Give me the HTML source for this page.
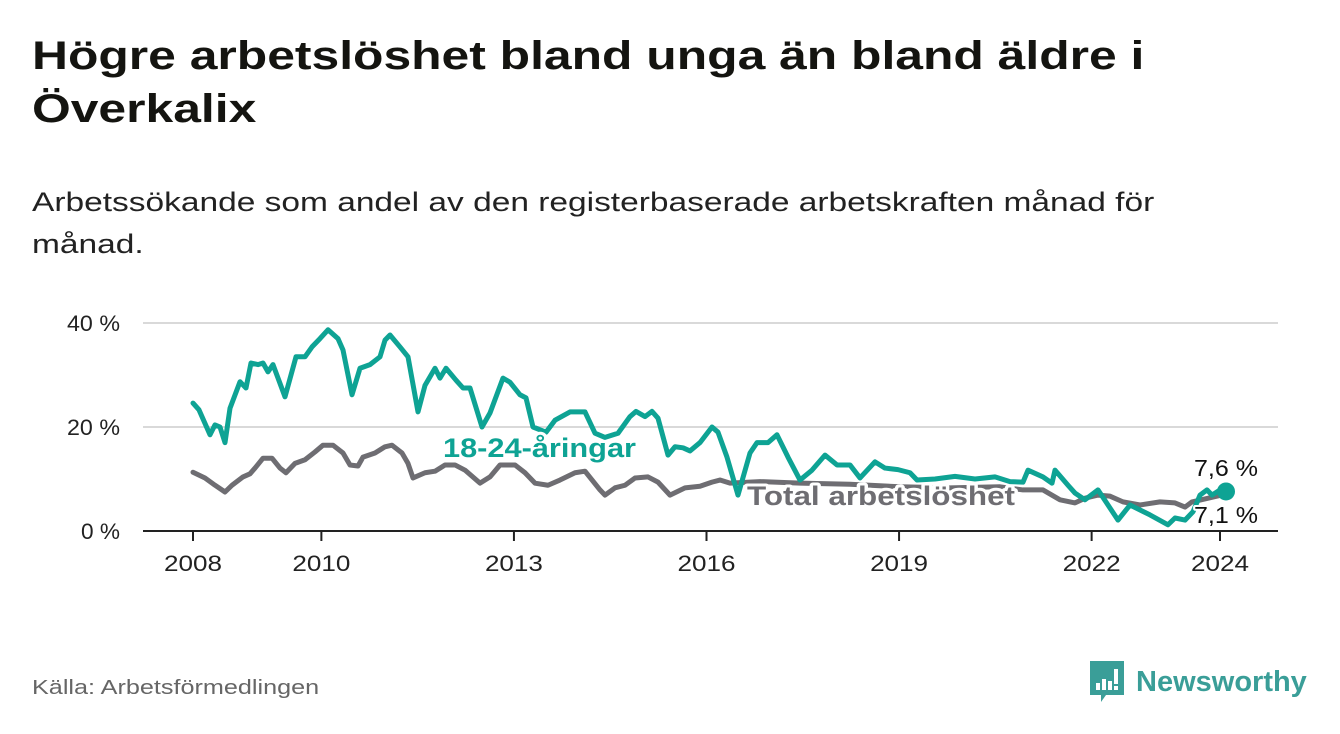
<!DOCTYPE html>
<html><head><meta charset="utf-8">
<style>
body{margin:0;width:1340px;height:734px;background:#fff;font-family:"Liberation Sans","DejaVu Sans",sans-serif;overflow:hidden;position:relative;color:#111}
.t{position:absolute;left:32px;top:30px;font-size:40px;font-weight:bold;line-height:53px;color:#141410;margin:0;transform:scaleX(1.245);transform-origin:0 0;white-space:nowrap}
.s{position:absolute;left:32px;top:181px;font-size:27px;line-height:42px;color:#222;margin:0;transform:scaleX(1.24);transform-origin:0 0;white-space:nowrap}
.src{position:absolute;left:32px;top:677px;font-size:20px;color:#666;transform:scaleX(1.26);transform-origin:0 0;white-space:nowrap}
.logo{position:absolute;left:1090px;top:661px;display:flex;align-items:center}
.logo span{font-size:29px;font-weight:bold;color:#3a9e98;margin-left:12px}
svg{position:absolute;left:0;top:0}
</style></head><body>
<h1 class="t">Högre arbetslöshet bland unga än bland äldre i<br>Överkalix</h1>
<p class="s">Arbetssökande som andel av den registerbaserade arbetskraften månad för<br>månad.</p>
<svg id="chart" width="1340" height="734"></svg>
<div class="src">Källa: Arbetsförmedlingen</div>
<div class="logo">
<svg width="34" height="42" viewBox="0 0 34 42" style="position:static"><path d="M0 0h34v34H16l-5 7v-7H0z" fill="#3a9e98"/><rect x="6" y="22" width="4" height="7" fill="#fff"/><rect x="12" y="18" width="4" height="11" fill="#fff"/><rect x="18" y="20" width="4" height="9" fill="#fff"/><rect x="24" y="8" width="4" height="15" fill="#fff"/><rect x="24" y="25" width="4" height="4" fill="#fff"/></svg>
<span>Newsworthy</span></div>
<script>
const youthX=[193,199,210,215,220,225,230,240,246,251,258,263,268,273,285,296,305,312,320,328,338,343,352,360,370,380,385,390,400,408,418,425,435,440,446,456,463,470,482,490,503,510,520,526,533,546,555,570,585,595,605,618,630,636,645,652,658,668,675,683,690,700,712,718,727,738,750,757,768,777,788,800,812,825,837,850,860,875,885,898,910,917,935,955,975,995,1010,1023,1028,1043,1052,1055,1068,1075,1085,1098,1108,1118,1130,1150,1168,1175,1185,1193,1200,1207,1212,1220,1226];
const youthV=[24.6,23.3,18.5,20.4,20,17,23.6,28.7,27.5,32.3,32,32.3,30.6,32,25.8,33.5,33.5,35.4,37,38.7,37,34.8,26.2,31.3,32,33.5,36.7,37.7,35.4,33.5,22.9,28,31.3,29.4,31.3,29,27.5,27.5,20,22.7,29.4,28.6,26.2,25.6,20,19,21.3,22.9,22.9,18.8,18,18.8,22,23,22,23,21.7,14.6,16.2,16,15.4,17,20,19,14.2,6.9,15,17,17,18.5,14.2,9.8,11.7,14.6,12.7,12.7,10.2,13.3,12.1,11.8,11.2,9.8,10,10.5,10,10.4,9.5,9.4,11.7,10.4,9.2,11.7,8.8,7.3,6,7.9,5,2.1,5,3.1,1.2,2.5,2.1,3.7,6.9,7.9,6.9,7.9,7.6];
const totalX=[193,205,215,225,232,243,250,255,263,272,280,286,295,305,315,323,333,343,350,358,363,375,385,392,402,408,413,425,435,445,455,465,480,490,500,515,525,535,548,560,575,585,600,605,615,625,635,648,658,670,685,700,712,720,730,760,800,850,900,950,1000,1023,1043,1060,1075,1085,1098,1110,1123,1140,1160,1175,1185,1192,1226];
const totalV=[11.3,10.2,8.8,7.5,8.8,10.4,11,12.1,14,14,12.1,11.2,13,13.7,15.2,16.5,16.5,15,12.7,12.5,14.2,15,16.2,16.5,15,13,10.2,11.2,11.5,12.7,12.7,11.7,9.2,10.4,12.7,12.7,11.2,9.2,8.8,9.8,11.2,11.5,7.9,6.9,8.3,8.8,10.2,10.4,9.4,6.9,8.3,8.6,9.4,9.8,9.2,9.5,9.2,9,8.5,8.3,8.5,7.9,7.9,6,5.4,6.3,6.9,6.7,5.6,5,5.6,5.4,4.6,5.6,7.1];
const yTicks=[0,20,40];
const xTickYears=[2008,2010,2013,2016,2019,2022,2024];
const NS="http://www.w3.org/2000/svg";
const svg=document.getElementById('chart');
const X0=143,X1=1278;
const yS=v=>531-v*5.2;
const xYear=y=>193+(y-2008)*64.1875;
function mk(t,a){const e=document.createElementNS(NS,t);for(const k in a)e.setAttribute(k,a[k]);svg.appendChild(e);return e;}
yTicks.forEach(v=>{
 const g=mk('line',{x1:X0,x2:X1,y1:yS(v),y2:yS(v),stroke:v===0?'#222':'#d9d9d9','stroke-width':2});
 
 
 const t=mk('text',{x:120,y:yS(v)+8,'text-anchor':'end','font-size':22,fill:'#222',textLength:(String(v).length*14+25),lengthAdjust:'spacingAndGlyphs'});
 t.textContent=v+' %';
 
 
});
xTickYears.forEach(y=>{
 const x=xYear(y);
 const l=mk('line',{x1:x,x2:x,y1:531,y2:541,stroke:'#222','stroke-width':2});
 
 
 const t=mk('text',{x:x,y:571,'text-anchor':'middle','font-size':22,fill:'#222',textLength:58,lengthAdjust:'spacingAndGlyphs'});
 t.textContent=y;
 
 
});
function line(xs,vs,col,name){
 const d=xs.map((x,i)=>(i?'L':'M')+x+','+yS(vs[i])).join('');
 const p=mk('path',{d:d,fill:'none',stroke:col,'stroke-width':5,'stroke-linejoin':'round','stroke-linecap':'round'});
 
 
}
line(totalX,totalV,'#6e6d72','total-unemployment-line');
line(youthX,youthV,'#0ea394','youth-unemployment-line');
const dot=mk('circle',{cx:youthX[youthX.length-1],cy:yS(youthV[youthV.length-1]),r:9,fill:'#0ea394'});


function lbl(x,y,txt,col,name,bold,anchor,len){
 const t=mk('text',{x:x,y:y,'font-size':bold?27:23,'font-weight':bold?'bold':'normal',fill:col,stroke:'#fff','stroke-width':bold?6:4,'paint-order':'stroke','stroke-linejoin':'round','text-anchor':anchor||'start',textLength:len,lengthAdjust:'spacingAndGlyphs'});
 t.textContent=txt;
 
 
}
lbl(443,457,'18-24-åringar','#0ea394','youth-series-label',true,'start',193);
lbl(747,505,'Total arbetslöshet','#6e6d72','total-series-label',true,'start',268);
lbl(1226,476,'7,6 %','#111','youth-end-value',false,'middle',64);
lbl(1226,523,'7,1 %','#111','total-end-value',false,'middle',64);
</script>
</body></html>
